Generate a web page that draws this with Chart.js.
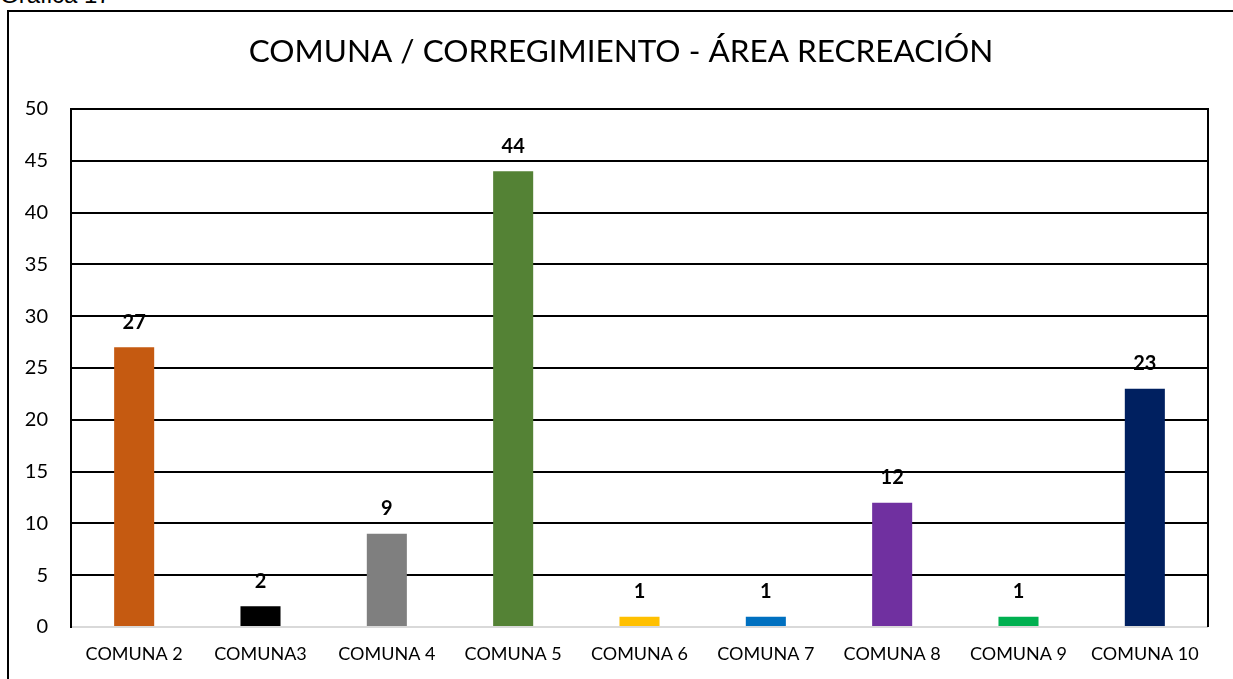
<!DOCTYPE html>
<html lang="es">
<head>
<meta charset="UTF-8">
<title>Gráfica 17</title>
<script src="https://cdn.jsdelivr.net/npm/chart.js"></script>
<style>
    body { margin: 0; background: #fff; overflow: hidden; }
    #caption { position: absolute; left: 0; top: -19px; font: 24px Arial, "Liberation Sans", sans-serif; color: #000; }
    #frame { position: absolute; left: 7px; top: 10px; width: 1250px; height: 700px; border: 2px solid #000; }
    #wrap { position: absolute; left: 0; top: 0; width: 1233px; height: 679px; }
</style>
</head>
<body>
    <div id="caption">Gráfica 17</div>
    <div id="frame"></div>
    <div id="wrap"><canvas id="chart"></canvas></div>

<script>
    // datos
    const comunas = ['COMUNA 2', 'COMUNA3', 'COMUNA 4', 'COMUNA 5', 'COMUNA 6', 'COMUNA 7', 'COMUNA 8', 'COMUNA 9', 'COMUNA 10'];
    const valores = [27, 2, 9, 44, 1, 1, 12, 1, 23];
    const colores = ['#C55A11', '#000000', '#7F7F7F', '#548235', '#FFC000', '#0070C0', '#7030A0', '#00B050', '#002060'];
    const titulo = 'COMUNA / CORREGIMIENTO - ÁREA RECREACIÓN';

    const fuente = 'Lato, Calibri, "Open Sans", sans-serif';

    // titulo centrado sobre el recuadro (no sobre el lienzo)
    const tituloCentrado = {
        id: 'tituloCentrado',
        afterDraw(chart) {
            const ctx = chart.ctx;
            ctx.save();
            ctx.font = '31.5px ' + fuente;
            ctx.fillStyle = '#000';
            ctx.textAlign = 'center';
            ctx.textBaseline = 'middle';
            ctx.fillText(titulo, 621, 52);
            ctx.restore();
        }
    };

    // etiquetas encima de cada barra
    const etiquetas = {
        id: 'etiquetas',
        afterDatasetsDraw(chart) {
            const ctx = chart.ctx;
            const meta = chart.getDatasetMeta(0);
            ctx.save();
            ctx.font = 'bold 20px ' + fuente;
            ctx.fillStyle = '#000';
            ctx.textAlign = 'center';
            ctx.textBaseline = 'middle';
            meta.data.forEach((bar, i) => {
                ctx.fillText(valores[i], bar.x, bar.y - 25);
            });
            ctx.restore();
        }
    };

    // linea del borde derecho del area de trazado
    const bordeDerecho = {
        id: 'bordeDerecho',
        beforeDatasetsDraw(chart) {
            const a = chart.chartArea;
            const ctx = chart.ctx;
            ctx.save();
            ctx.strokeStyle = '#000';
            ctx.lineWidth = 2;
            ctx.beginPath();
            ctx.moveTo(a.right, a.top - 1);
            ctx.lineTo(a.right, a.bottom);
            ctx.stroke();
            ctx.restore();
        }
    };

    new Chart(document.getElementById('chart'), {
        type: 'bar',
        data: {
            labels: comunas,
            datasets: [{
                data: valores,
                backgroundColor: colores,
                categoryPercentage: 1,
                barPercentage: 0.317
            }]
        },
        options: {
            responsive: true,
            maintainAspectRatio: false,
            animation: false,
            layout: { padding: { top: 109, right: 25, bottom: 0, left: 0 } },
            plugins: {
                legend: { display: false },
                tooltip: { enabled: false },
                title: { display: false }
            },
            scales: {
                x: {
                    grid: { display: false },
                    border: { display: false },
                    ticks: { color: '#000', font: { family: fuente, size: 18 }, padding: 8, maxRotation: 0 },
                    afterFit(s) { s.height = 52; }
                },
                y: {
                    min: 0,
                    max: 50,
                    ticks: { stepSize: 5, color: '#000', font: { family: fuente, size: 20 }, padding: 23 },
                    grid: {
                        drawTicks: false,
                        lineWidth: 2,
                        color: c => c.tick && c.tick.value === 0 ? '#D9D9D9' : '#000'
                    },
                    border: { display: true, color: '#000', width: 2 },
                    afterFit(s) { s.width = 71; }
                }
            }
        },
        plugins: [tituloCentrado, etiquetas, bordeDerecho]
    });
</script>
</body>
</html>
